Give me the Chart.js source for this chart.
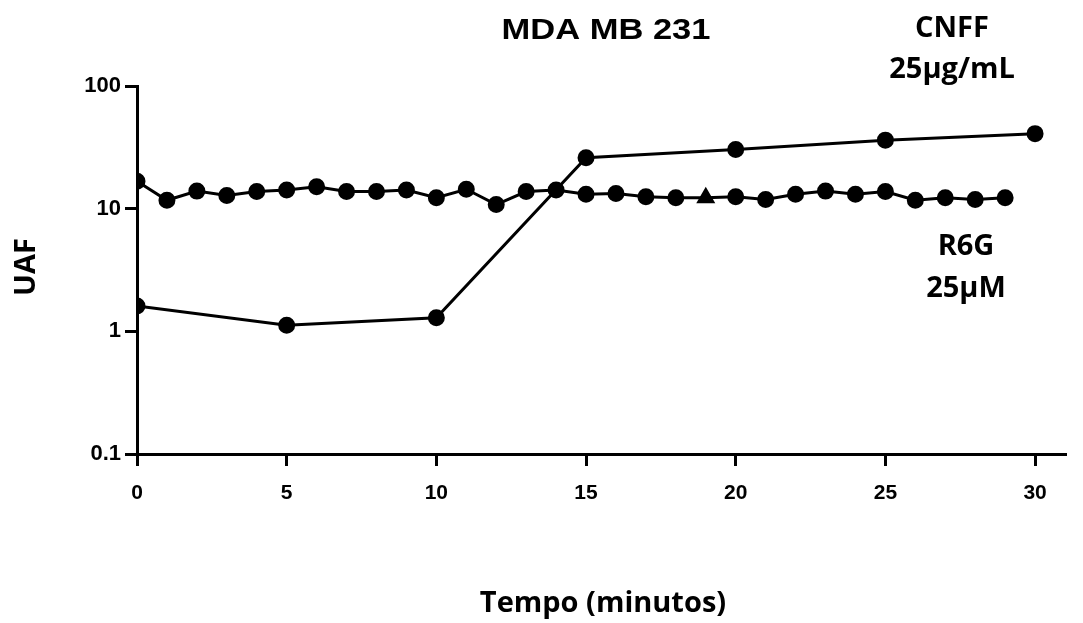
<!DOCTYPE html>
<html>
<head>
<meta charset="utf-8">
<script src="https://cdn.jsdelivr.net/npm/chart.js@4"></script>
<style>
  html, body { margin: 0; padding: 0; background: #fff; }
  #wrap { width: 1083px; height: 623px; }
</style>
</head>
<body>
<div id="wrap"><canvas id="chart"></canvas></div>
<script>
const minutosR6G = [0, 1, 2, 3, 4, 5, 6, 7, 8, 9, 10, 11, 12, 13, 14, 15, 16, 17, 18, 19, 20, 21, 22, 23, 24, 25, 26, 27, 28, 29]
const r6g = [16.7, 11.7, 13.9, 12.8, 13.8, 14.2, 15.1, 13.8, 13.8, 14.2, 12.3, 14.4, 10.8, 13.8, 14.2, 13.1, 13.3, 12.5, 12.3, 12.3, 12.5, 11.9, 13.1, 13.9, 13.1, 13.8, 11.7, 12.3, 11.9, 12.3]
const minutosCNFF = [0, 5, 10, 15, 20, 25, 30]
const cnff = [1.61, 1.12, 1.29, 26.0, 30.4, 36.2, 40.9]
const yTicks = [0.1, 1, 10, 100]
const xTicks = [0, 5, 10, 15, 20, 25, 30]

const toPoints = (xs, ys) => xs.map((x, i) => ({ x: x, y: ys[i] }))

// marker at minute 19 is drawn as a triangle in the original
const r6gStyles = minutosR6G.map(m => m === 19 ? 'triangle' : 'circle')

const textPlugin = {
  id: 'labels',
  afterDraw(chart) {
    const ctx = chart.ctx
    ctx.save()
    ctx.fillStyle = '#000'
    ctx.textAlign = 'center'
    ctx.textBaseline = 'middle'
    // title is a wide bold sans, stretch it a bit
    ctx.save()
    ctx.translate(606, 31)
    ctx.scale(1.15, 1)
    ctx.font = 'bold 30px "Liberation Sans", Arial, sans-serif'
    ctx.fillText('MDA MB 231', 0, 0)
    ctx.restore()
    ctx.font = 'bold 29px "Open Sans", sans-serif'
    ctx.fillText('CNFF', 952, 29)
    ctx.fillText('25µg/mL', 952, 70)
    ctx.fillText('R6G', 966, 247)
    ctx.fillText('25µM', 966, 289)
    ctx.fillText('Tempo (minutos)', 603, 604)
    ctx.translate(27, 267)
    ctx.rotate(-Math.PI / 2)
    ctx.fillText('UAF', 0, 0)
    ctx.restore()
  }
}

new Chart(document.getElementById('chart'), {
  type: 'line',
  data: {
    datasets: [
      {
        label: 'CNFF 25µg/mL',
        data: toPoints(minutosCNFF, cnff),
        borderColor: '#000',
        backgroundColor: '#000',
        borderWidth: 3,
        pointRadius: 7,
        tension: 0
      },
      {
        label: 'R6G 25µM',
        data: toPoints(minutosR6G, r6g),
        borderColor: '#000',
        backgroundColor: '#000',
        borderWidth: 3,
        pointRadius: minutosR6G.map(m => m === 19 ? 8 : 7),
        pointStyle: r6gStyles,
        tension: 0
      }
    ]
  },
  options: {
    responsive: true,
    maintainAspectRatio: false,
    animation: false,
    layout: { padding: { top: 86, right: 18, left: 0, bottom: 0 } },
    plugins: {
      legend: { display: false },
      tooltip: { enabled: false }
    },
    scales: {
      x: {
        type: 'linear',
        min: 0,
        max: 31,
        afterBuildTicks: (scale) => { scale.ticks = xTicks.map(v => ({ value: v })) },
        afterFit: (scale) => { scale.height = 623 - 454 },
        border: { color: '#000', width: 3 },
        grid: { drawOnChartArea: false, drawTicks: true, tickLength: 12, color: '#000', lineWidth: 3 },
        ticks: {
          color: '#000',
          padding: 15,
          font: { family: '"Liberation Sans", Arial, sans-serif', size: 21, weight: 'bold' }
        }
      },
      y: {
        type: 'logarithmic',
        min: 0.1,
        max: 100,
        afterBuildTicks: (scale) => { scale.ticks = yTicks.map(v => ({ value: v })) },
        afterFit: (scale) => { scale.width = 137 },
        border: { color: '#000', width: 3 },
        grid: { drawOnChartArea: false, drawTicks: true, tickLength: 12, color: '#000', lineWidth: 3 },
        ticks: {
          color: '#000',
          padding: 4,
          callback: (v) => String(v),
          font: { family: '"Liberation Sans", Arial, sans-serif', size: 22, weight: 'bold' }
        }
      }
    }
  },
  plugins: [textPlugin]
})
</script>
</body>
</html>
